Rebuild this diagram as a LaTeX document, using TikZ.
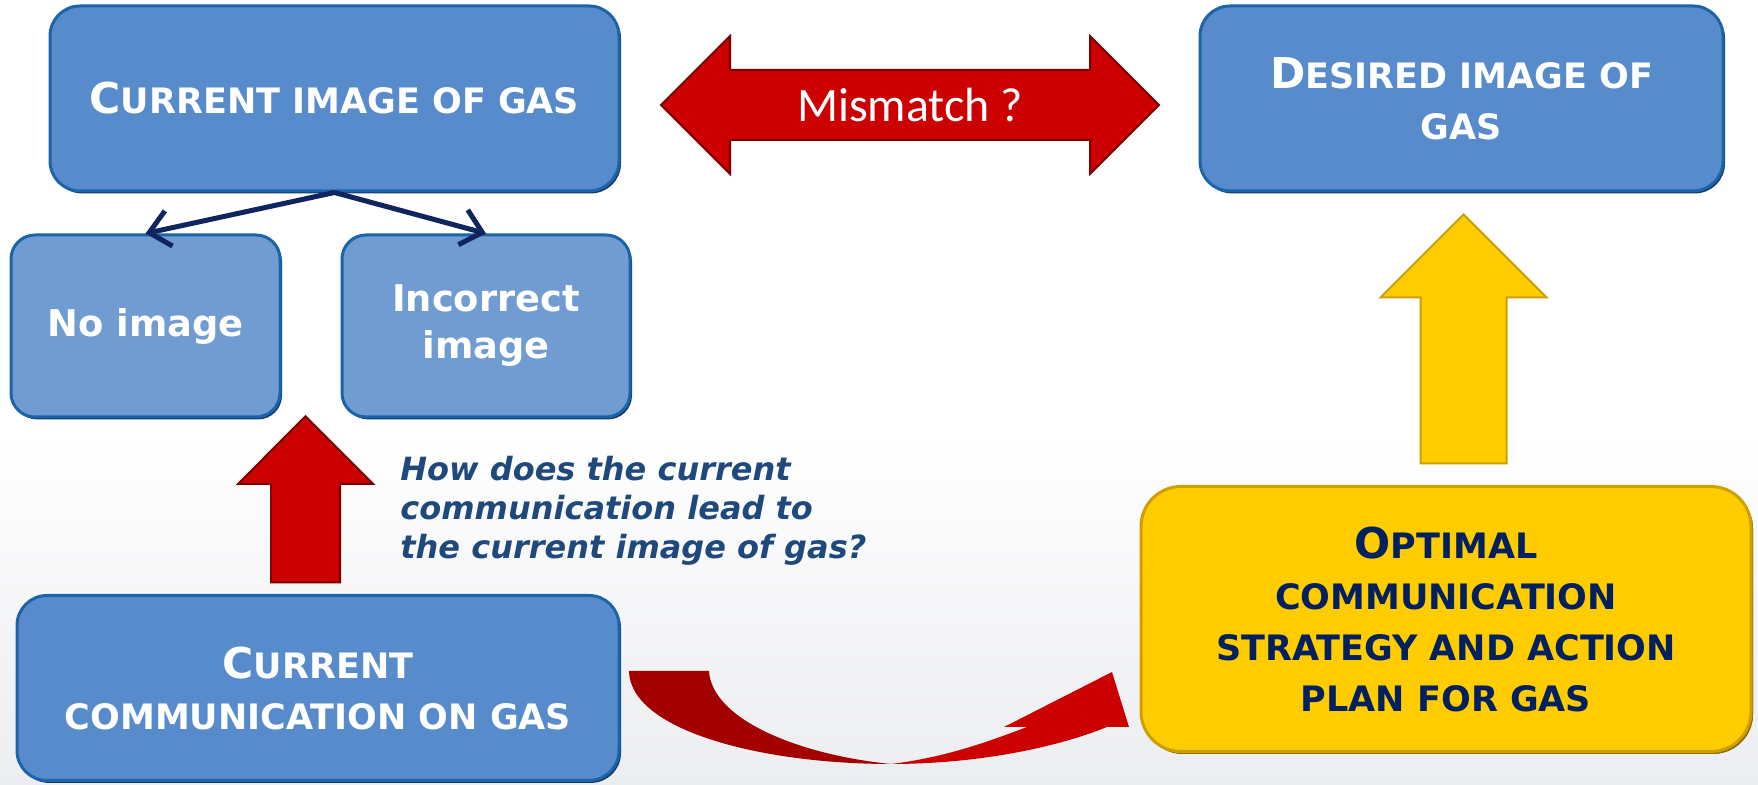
\documentclass[tikz,border=0pt]{standalone}
\usepackage{fontspec}
\setmainfont{DejaVu Sans}
\newfontfamily\mmfont{Carlito}
\usetikzlibrary{arrows.meta,shapes.arrows,positioning}

\definecolor{boxblue}{RGB}{88,139,203}
\definecolor{lightbox}{RGB}{112,156,210}
\definecolor{blueedge}{RGB}{28,100,170}
\definecolor{bluedeep}{RGB}{18,55,100}
\definecolor{arrred}{RGB}{204,0,0}
\definecolor{darkred}{RGB}{163,0,0}
\definecolor{redge}{RGB}{125,0,0}
\definecolor{gold}{RGB}{255,204,0}
\definecolor{goldedge}{RGB}{205,160,0}
\definecolor{golddeep}{RGB}{150,110,0}
\definecolor{navytext}{RGB}{0,32,96}
\definecolor{asktext}{RGB}{31,73,125}
\definecolor{linkblue}{RGB}{16,36,96}
\definecolor{floor}{RGB}{236,237,240}

% larger first letter of the small-caps titles
\newcommand\ini[1]{{\fontsize{21.25}{25.5}\selectfont #1}}

\begin{document}
\begin{tikzpicture}[x=0.5pt, y=-0.5pt,
    box/.style={
        draw=blueedge,
        line width=1.5pt,
        fill=boxblue,
        rounded corners=15pt,
        preaction={fill=bluedeep, transform canvas={shift={(1pt,-1.2pt)}}},
        align=center,
        text=white,
        font=\bfseries\fontsize{17.5}{25.5}\selectfont,
        minimum height=92.5pt,
        inner sep=0pt
    },
    subbox/.style={
        box,
        fill=lightbox,
        rounded corners=12pt,
        font=\bfseries\fontsize{18.4}{23.5}\selectfont,
        minimum height=91pt
    },
    goldbox/.style={
        box,
        fill=gold,
        draw=goldedge,
        preaction={fill=golddeep, transform canvas={shift={(1pt,-1.2pt)}}},
        text=navytext,
        rounded corners=20pt,
        minimum height=132.5pt
    },
    uparrow/.style={single arrow, rotate=90, anchor=tip, inner xsep=0pt, line width=1pt},
    link/.style={draw=linkblue, line width=2.5pt, -{Straight Barb[length=10pt,width=18pt]}}
]
% background
\fill[white] (0,0) rectangle (1758,785);
\shade[top color=white, bottom color=floor] (0,430) rectangle (1758,785);
\useasboundingbox (0,0) rectangle (1758,785);

% boxes
\node[box, minimum width=284.5pt] (curimg) at (334.5,98.5) {\ini{C}URRENT IMAGE OF GAS};
\node[box, minimum width=261.5pt] (desimg) at (1461.5,98.5) {\ini{D}ESIRED IMAGE OF\\GAS};
\node[subbox, minimum width=134.5pt] (noimg) at (145.5,326) {No image};
\node[subbox, minimum width=144pt] (wrongimg) at (486,326) {Incorrect\\image};
\node[box, minimum width=301pt] (curcomm) at (318,688) {\ini{C}URRENT\\COMMUNICATION ON GAS};
\node[goldbox, minimum width=305pt] (optimal) at (1446,619) {\ini{O}PTIMAL\\COMMUNICATION\\STRATEGY AND ACTION\\PLAN FOR GAS};

% block arrows
\node[double arrow, fill=arrred, draw=redge, line width=1pt,
      double arrow head extend=17pt, minimum height=249pt,
      inner xsep=0pt, inner ysep=8.5pt, text height=17pt, text depth=0pt,
      text=white, font=\mmfont\fontsize{24}{28}\selectfont] (mismatch) at (910,105) {Mismatch ?};
\node[uparrow, fill=arrred, draw=redge, single arrow head extend=16.5pt,
      inner ysep=16.75pt, minimum height=83pt] (askarrow) at (305.5,415) {};
\node[uparrow, fill=gold, draw=goldedge, single arrow head extend=20pt,
      inner ysep=21pt, minimum height=124.5pt] (goalarrow) at (1463.5,213) {};

\node[anchor=north west, text=asktext, align=left, inner sep=0pt,
      font=\bfseries\itshape\fontsize{16}{19.5}\selectfont] (ask) at (400,456)
      {How does the current\\communication lead to\\the current image of gas?};

% branches
\draw[link] (curimg.south) -- (noimg.north);
\draw[link] (curimg.south) -- (wrongimg.north);

% curved arrow
\fill[darkred] (629,671) .. controls (630,730) and (760,764) .. (891,764)
    .. controls (800,755) and (712,720) .. (709,671) -- cycle;
\fill[arrred] (891,764) .. controls (970,764) and (1050,750) .. (1107,727)
    -- (1129,727) -- (1112,672) -- (1004,727) -- (1027,727)
    .. controls (980,745) and (940,758) .. (891,764) -- cycle;
\end{tikzpicture}
\end{document}
